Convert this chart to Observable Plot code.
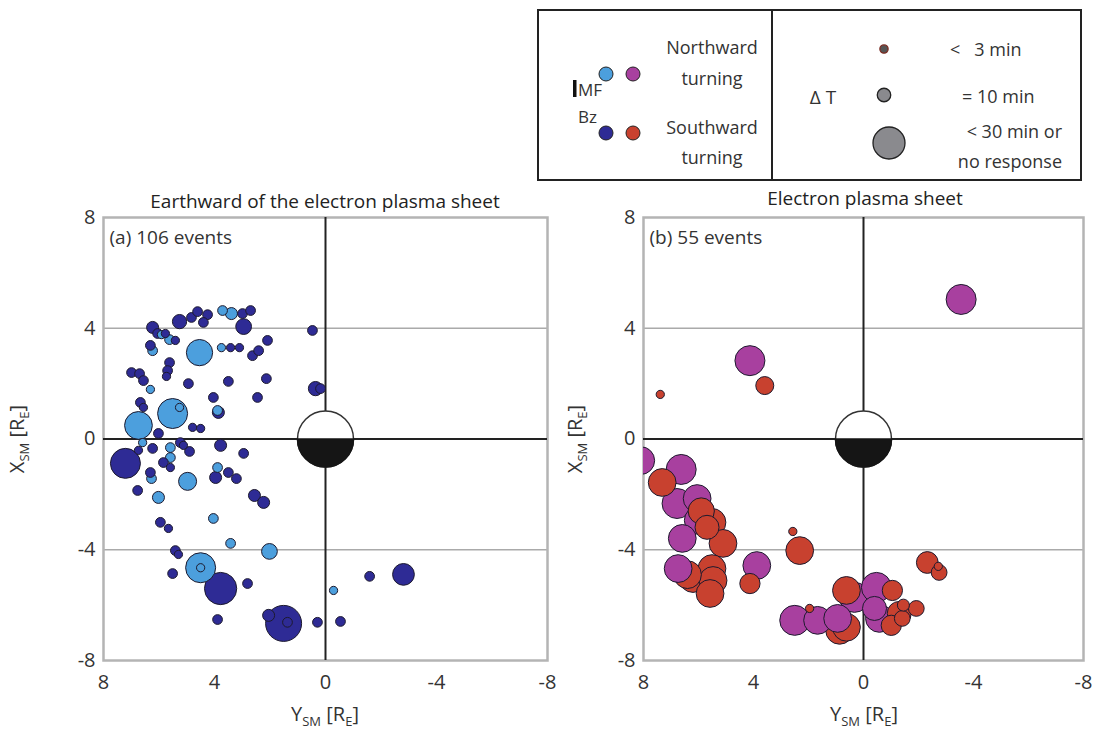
<!DOCTYPE html>
<html><head><meta charset="utf-8">
<script src="https://cdn.jsdelivr.net/npm/d3@7"></script>
<script src="https://cdn.jsdelivr.net/npm/@observablehq/plot@0.6"></script>
<style>
body{margin:0;background:#fff;font-family:"Open Sans",sans-serif;color:#222}
#wrap{position:relative;width:1107px;height:735px;overflow:hidden;background:#fff}
.abs{position:absolute;white-space:nowrap}
.ttl{font-size:19px;text-align:center;color:#222}
.axl{font-size:20px;color:#333;text-align:center;width:200px}
.axl sub{font-size:13px}
</style></head><body><div id="wrap"></div>
<script>
// ---------- data ----------
const tickValues = [8, 4, 0, -4, -8];
const gridValues = [4, -4];
const panelTitles = ["Earthward of the electron plasma sheet", "Electron plasma sheet"];
const panelLabels = ["(a) 106 events", "(b) 55 events"];
const turningLabels = ["Northward", "Southward"];
const dtLabels = ["<   3 min", "= 10 min", "< 30 min or", "no response"];
const dtLegendValues = [3, 10, 30];

// [Y_SM, X_SM, dT(min)]
const northA = [
  [3.71,4.64,5],[3.39,4.53,8],[5.91,3.77,3],[5.62,3.59,5],[6.23,3.19,5],[4.54,3.12,27],
  [3.75,3.30,3],[6.31,1.79,3],[5.51,0.92,32],[5.26,1.14,3],[3.89,1.03,5],[6.74,0.49,29],
  [6.59,-0.13,3],[5.59,-0.31,5],[5.59,-0.67,5],[6.27,-1.43,5],[4.97,-1.53,16],[3.89,-1.03,5],
  [6.02,-2.11,8],[4.04,-2.87,5],[3.42,-3.77,5],[2.02,-4.06,13],[4.50,-4.65,32],[4.50,-4.65,3],
  [-0.29,-5.47,3]
];
const southA = [
  [5.26,4.24,11],[4.83,4.39,5],[4.61,4.60,5],[4.25,4.49,5],[4.40,4.21,5],[2.99,4.53,5],
  [2.70,4.64,5],[2.95,4.06,13],[6.23,4.03,8],[6.05,3.81,5],[5.77,3.81,3],[5.41,3.56,3],
  [6.31,3.38,5],[3.42,3.30,3],[3.10,3.30,3],[2.63,3.01,5],[2.41,3.19,5],[2.09,3.56,5],
  [5.62,2.76,5],[5.69,2.47,5],[5.73,2.26,3],[6.99,2.40,5],[6.70,2.36,5],[6.56,2.11,5],
  [4.94,2.00,5],[3.50,2.08,5],[2.13,2.18,5],[4.04,1.50,5],[2.45,1.50,5],[6.67,1.32,5],
  [6.56,1.14,3],[3.86,0.96,8],[4.79,0.42,3],[4.50,0.38,3],[0.47,3.92,5],[0.36,1.82,11],
  [0.18,1.82,5],[6.02,0.20,5],[6.23,-0.34,5],[6.74,-0.41,3],[7.21,-0.88,32],[5.23,-0.13,5],
  [5.12,-0.23,3],[5.84,-0.85,5],[5.59,-1.03,3],[4.90,-0.45,5],[3.78,-0.23,8],[2.95,-0.52,5],
  [6.31,-1.21,5],[3.96,-1.39,8],[3.50,-1.21,5],[3.21,-1.43,5],[6.77,-1.86,5],[2.56,-2.04,8],
  [2.23,-2.29,8],[5.95,-3.01,5],[5.66,-3.23,3],[5.41,-4.03,5],[5.30,-4.17,3],[5.51,-4.86,5],
  [3.78,-5.40,35],[2.81,-5.22,5],[3.89,-6.52,5],[2.05,-6.37,8],[1.51,-6.66,40],[1.37,-6.62,5],
  [0.29,-6.62,5],[-0.54,-6.59,5],[-1.59,-4.96,5],[-2.81,-4.89,21]
];
const northB = [
  [-3.55,5.04,32],[4.13,2.83,32],[8.1,-0.78,29],[6.63,-1.10,32],[6.05,-2.15,29],[6.78,-2.33,32],
  [6.01,-2.94,29],[6.59,-3.59,29],[6.74,-4.68,29],[3.88,-4.57,29],[0.33,-5.72,32],[-0.47,-5.36,32],
  [-0.40,-6.12,24],[-0.58,-6.48,29],[2.50,-6.55,32],[1.67,-6.55,29],[0.94,-6.48,29]
];
const southB = [
  [3.59,1.93,16],[7.39,1.61,3],[7.32,-1.57,29],[5.51,-3.01,29],[5.69,-3.19,24],[5.11,-3.77,29],
  [6.20,-5.04,29],[5.51,-4.68,29],[5.47,-5.11,29],[5.58,-5.58,29],[4.13,-5.22,19],[2.57,-3.34,3],
  [2.32,-4.03,29],[-2.32,-4.46,21],[-2.75,-4.82,13],[-2.72,-4.60,3],[0.62,-5.47,29],[-1.05,-5.47,19],
  [-1.30,-6.30,24],[-1.41,-6.48,13],[-1.92,-6.12,13],[-1.01,-6.73,19],[1.96,-6.12,3],[0.87,-6.91,29],
  [0.62,-6.80,29],[-1.45,-6.00,8],[5.90,-2.60,27],[6.40,-4.90,29]
];
const colorsA = ["#4c9fdd", "#2e2b95"];
const colorsB = ["#a8409f", "#c8412f"];
const earth = [{Y: 0, X: 0}];

// ---------- helpers ----------
const halfDisc = {draw(ctx, size) { const r = Math.sqrt(size / Math.PI); ctx.moveTo(r, 0); ctx.arc(0, 0, r, 0, Math.PI); ctx.closePath(); }};
const rScale = {type: "linear", domain: [0, 40], range: [3, 18]};
const wrap = document.getElementById("wrap");

function rows(list, type) { return list.map(([Y, X, dt]) => ({Y, X, dt, type})); }
const byDt = (a, b) => b.dt - a.dt;

function panel(north, south, colors, label, width, marginRight, northOnTop) {
  const data = northOnTop
    ? rows(south, "S").sort(byDt).concat(rows(north, "N").sort(byDt))
    : rows(north, "N").concat(rows(south, "S")).sort(byDt);
  return Plot.plot({
    width, height: 545,
    marginLeft: 103, marginRight, marginTop: 27, marginBottom: 75,
    style: {fontSize: "20px", fontFamily: "Open Sans, sans-serif", color: "#333", background: "transparent", overflow: "visible"},
    x: {domain: [8, -8], ticks: tickValues, tickFormat: d => String(d), tickSize: 0, tickPadding: 14, label: null},
    y: {domain: [-8, 8], ticks: tickValues, tickFormat: d => String(d), tickSize: 0, tickPadding: 8, label: null},
    r: rScale,
    color: {domain: ["N", "S"], range: colors},
    marks: [
      Plot.ruleY(gridValues, {stroke: "#aaa", strokeWidth: 1.5}),
      Plot.frame({stroke: "#b4b4b4", strokeWidth: 2.5}),
      Plot.ruleY([0], {stroke: "#222", strokeWidth: 2}),
      Plot.ruleX([0], {stroke: "#222", strokeWidth: 2}),
      Plot.dot(earth, {x: "Y", y: "X", r: 28, fill: "white", stroke: "#333", strokeWidth: 1.5}),
      Plot.dot(earth, {x: "Y", y: "X", r: 28, symbol: halfDisc, fill: "#151515", stroke: "#151515"}),
      Plot.dot(data, {x: "Y", y: "X", r: "dt", fill: "type", stroke: "#1d1a2e", strokeWidth: 1, clip: true}),
      Plot.text([label], {frameAnchor: "top-left", dx: 6, dy: 13, fontSize: 19, fill: "#333"})
    ]
  });
}

function place(el, left, top) { el.style.position = "absolute"; el.style.left = left + "px"; el.style.top = top + "px"; wrap.appendChild(el); }

place(panel(northA, southA, colorsA, panelLabels[0], 560, 13, false), 0, 190);
place(panel(northB, southB, colorsB, panelLabels[1], 567, 24, true), 540, 190);

function div(cls, html, left, top, extra) {
  const d = document.createElement("div"); d.className = "abs " + cls; d.innerHTML = html;
  d.style.left = left + "px"; d.style.top = top + "px"; if (extra) Object.assign(d.style, extra); wrap.appendChild(d); return d;
}
div("ttl", panelTitles[0], 105, 188, {width: "440px"});
div("ttl", panelTitles[1], 645, 185, {width: "440px"});
const xl = "X<sub>SM</sub> [R<sub>E</sub>]", yl = "Y<sub>SM</sub> [R<sub>E</sub>]";
div("axl", yl, 225, 700);
div("axl", yl, 764, 700);
div("axl", xl, -82, 424, {transform: "rotate(-90deg)"});
div("axl", xl, 476, 424, {transform: "rotate(-90deg)"});

// ---------- legend ----------
const svg = d3.select(wrap).append("svg").attr("width", 1107).attr("height", 190)
  .style("position", "absolute").style("left", "0px").style("top", "0px")
  .style("font-family", "Open Sans, sans-serif");
svg.append("rect").attr("x", 538).attr("y", 10).attr("width", 543).attr("height", 170)
  .attr("fill", "white").attr("stroke", "#222").attr("stroke-width", 2);
svg.append("line").attr("x1", 772).attr("x2", 772).attr("y1", 10).attr("y2", 180).attr("stroke", "#222").attr("stroke-width", 2);
const t = (x, y, s, anchor = "middle", size = 18) => svg.append("text").attr("x", x).attr("y", y).attr("text-anchor", anchor)
  .attr("font-size", size).attr("fill", "#333").text(s);
svg.append("rect").attr("x", 573).attr("y", 80).attr("width", 3.5).attr("height", 17).attr("fill", "#111");
t(578, 96, "MF", "start", 17);
t(578, 123, "Bz", "start", 17);
const lc = [[606, 74, colorsA[0]], [633, 74, colorsB[0]], [606, 133, colorsA[1]], [633, 133, colorsB[1]]];
lc.forEach(([x, y, c]) => svg.append("circle").attr("cx", x).attr("cy", y).attr("r", 7).attr("fill", c).attr("stroke", "#222"));
t(712, 54, turningLabels[0]); t(712, 85, "turning");
t(712, 134, turningLabels[1]); t(712, 164, "turning");
t(823, 104, "\u0394 T", "middle", 19);
const rr = d3.scaleLinear(rScale.domain, rScale.range);
[[884, 49], [884, 95], [889, 143]].forEach(([x, y], i) => svg.append("circle").attr("cx", x).attr("cy", y)
  .attr("r", i === 2 ? 16 : rr(dtLegendValues[i])).attr("fill", i === 0 ? "#555" : "#8a8a8e").attr("stroke", i === 0 ? "#7a2a20" : "#222").attr("stroke-width", 1.3));
t(950, 56, dtLabels[0], "start").attr("xml:space", "preserve").style("white-space", "pre");
t(962, 103, dtLabels[1], "start");
t(1062, 138, dtLabels[2], "end");
t(1062, 168, dtLabels[3], "end");
</script></body></html>
